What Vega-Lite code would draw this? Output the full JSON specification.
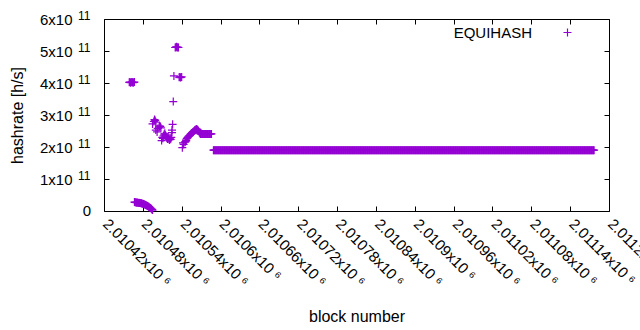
{
"$schema": "https://vega.github.io/schema/vega-lite/v6.json",
"width": 505, "height": 192,
"autosize": {"type": "none"},
"padding": {"left": 104, "top": 19, "right": 31, "bottom": 119},
"background": "white",
"config": {
 "view": {"stroke": "#000000", "strokeWidth": 1},
 "font": "Liberation Sans",
 "axis": {"grid": false, "domain": false, "tickColor": "#000000", "tickSize": -5, "tickWidth": 1, "labelColor": "#000000", "labelFont": "Liberation Sans", "labelFontSize": 15, "titleFont": "Liberation Sans", "titleFontSize": 16, "titleFontWeight": "normal", "titleColor": "#000000"}
},
"datasets": {
"exp": [{"v":100000000000,"e":"11"},{"v":200000000000,"e":"11"},{"v":300000000000,"e":"11"},{"v":400000000000,"e":"11"},{"v":500000000000,"e":"11"},{"v":600000000000,"e":"11"}],
"zero": [{"v":0,"e":"0"}],
"hr": [
{"b":2010459,"h":4.02e11},{"b":2010460,"h":4.03e11},{"b":2010461,"h":4.01e11},{"b":2010462,"h":4.02e11},{"b":2010463,"h":4.03e11},{"b":2010464,"h":4.02e11},{"b":2010465,"h":4.01e11},{"b":2010466,"h":4.02e11},{"b":2010467,"h":4.03e11},
{"b":2010467,"h":2.8e10},{"b":2010468,"h":2.7e10},{"b":2010469,"h":2.7e10},{"b":2010470,"h":2.6e10},{"b":2010471,"h":2.7e10},{"b":2010472,"h":2.6e10},{"b":2010473,"h":2.5e10},{"b":2010474,"h":2.6e10},{"b":2010475,"h":2.5e10},{"b":2010476,"h":2.5e10},{"b":2010477,"h":2.4e10},{"b":2010478,"h":2.4e10},{"b":2010479,"h":2.3e10},{"b":2010480,"h":2.3e10},{"b":2010481,"h":2.2e10},{"b":2010482,"h":2.1e10},{"b":2010483,"h":2.0e10},{"b":2010484,"h":1.9e10},{"b":2010485,"h":1.8e10},{"b":2010486,"h":1.7e10},{"b":2010487,"h":1.6e10},{"b":2010488,"h":1.5e10},{"b":2010489,"h":1.3e10},{"b":2010490,"h":1.2e10},{"b":2010491,"h":1.0e10},{"b":2010492,"h":0.9e10},{"b":2010493,"h":0.7e10},{"b":2010494,"h":0.5e10},{"b":2010495,"h":0.3e10},
{"b":2010495,"h":2.72e11},{"b":2010497,"h":2.80e11},{"b":2010498,"h":2.86e11},{"b":2010499,"h":2.83e11},{"b":2010500,"h":2.78e11},{"b":2010500,"h":2.53e11},{"b":2010502,"h":2.47e11},{"b":2010503,"h":2.58e11},{"b":2010505,"h":2.62e11},{"b":2010506,"h":2.66e11},{"b":2010507,"h":2.64e11},{"b":2010508,"h":2.60e11},{"b":2010509,"h":2.20e11},{"b":2010510,"h":2.30e11},{"b":2010511,"h":2.27e11},{"b":2010512,"h":2.35e11},{"b":2010513,"h":2.40e11},{"b":2010514,"h":2.43e11},{"b":2010515,"h":2.37e11},{"b":2010516,"h":2.33e11},{"b":2010517,"h":2.28e11},{"b":2010518,"h":2.25e11},{"b":2010519,"h":2.30e11},{"b":2010520,"h":2.26e11},{"b":2010521,"h":2.22e11},{"b":2010522,"h":2.28e11},{"b":2010523,"h":2.24e11},{"b":2010524,"h":2.30e11},{"b":2010525,"h":2.45e11},{"b":2010525,"h":2.53e11},{"b":2010526,"h":2.71e11},{"b":2010527,"h":3.42e11},{"b":2010528,"h":4.22e11},
{"b":2010530,"h":5.11e11},{"b":2010531,"h":5.12e11},{"b":2010532,"h":5.13e11},{"b":2010533,"h":5.11e11},{"b":2010534,"h":5.12e11},{"b":2010535,"h":5.11e11},
{"b":2010536,"h":4.18e11},{"b":2010537,"h":4.19e11},{"b":2010538,"h":4.17e11},{"b":2010539,"h":4.18e11},{"b":2010540,"h":4.19e11},
{"b":2010541,"h":1.98e11},{"b":2010542,"h":2.13e11},{"b":2010543,"h":2.08e11},{"b":2010545,"h":2.15e11},{"b":2010546,"h":2.17e11},{"b":2010547,"h":2.20e11},{"b":2010548,"h":2.26e11},{"b":2010549,"h":2.29e11},{"b":2010550,"h":2.32e11},{"b":2010551,"h":2.34e11},{"b":2010552,"h":2.36e11},{"b":2010553,"h":2.38e11},{"b":2010554,"h":2.40e11},{"b":2010555,"h":2.42e11},{"b":2010556,"h":2.44e11},{"b":2010557,"h":2.46e11},{"b":2010558,"h":2.48e11},{"b":2010559,"h":2.50e11},{"b":2010560,"h":2.52e11},{"b":2010561,"h":2.54e11},{"b":2010562,"h":2.55e11},{"b":2010563,"h":2.56e11},{"b":2010564,"h":2.55e11},{"b":2010565,"h":2.53e11},{"b":2010566,"h":2.50e11},{"b":2010567,"h":2.46e11},{"b":2010568,"h":2.43e11},
{"b":2010569,"h":2.41e11},{"b":2010570,"h":2.41e11},{"b":2010571,"h":2.41e11},{"b":2010572,"h":2.41e11},{"b":2010573,"h":2.41e11},{"b":2010574,"h":2.41e11},{"b":2010575,"h":2.41e11},{"b":2010576,"h":2.41e11},{"b":2010577,"h":2.41e11},{"b":2010578,"h":2.41e11},{"b":2010579,"h":2.41e11},{"b":2010580,"h":2.41e11},{"b":2010581,"h":2.41e11},{"b":2010582,"h":2.41e11},{"b":2010583,"h":2.41e11},{"b":2010584,"h":2.41e11},{"b":2010585,"h":2.41e11},{"b":2010586,"h":2.41e11},
{"b":2010589,"h":1.9e11},
{"b":2010590,"h":1.9e11},{"b":2010591,"h":1.9e11},{"b":2010592,"h":1.9e11},{"b":2010593,"h":1.9e11},{"b":2010594,"h":1.9e11},{"b":2010595,"h":1.9e11},{"b":2010596,"h":1.9e11},{"b":2010597,"h":1.9e11},{"b":2010598,"h":1.9e11},{"b":2010599,"h":1.9e11},
{"b":2010600,"h":1.9e11},{"b":2010601,"h":1.9e11},{"b":2010602,"h":1.9e11},{"b":2010603,"h":1.9e11},{"b":2010604,"h":1.9e11},{"b":2010605,"h":1.9e11},{"b":2010606,"h":1.9e11},{"b":2010607,"h":1.9e11},{"b":2010608,"h":1.9e11},{"b":2010609,"h":1.9e11},
{"b":2010610,"h":1.9e11},{"b":2010611,"h":1.9e11},{"b":2010612,"h":1.9e11},{"b":2010613,"h":1.9e11},{"b":2010614,"h":1.9e11},{"b":2010615,"h":1.9e11},{"b":2010616,"h":1.9e11},{"b":2010617,"h":1.9e11},{"b":2010618,"h":1.9e11},{"b":2010619,"h":1.9e11},
{"b":2010620,"h":1.9e11},{"b":2010621,"h":1.9e11},{"b":2010622,"h":1.9e11},{"b":2010623,"h":1.9e11},{"b":2010624,"h":1.9e11},{"b":2010625,"h":1.9e11},{"b":2010626,"h":1.9e11},{"b":2010627,"h":1.9e11},{"b":2010628,"h":1.9e11},{"b":2010629,"h":1.9e11},
{"b":2010630,"h":1.9e11},{"b":2010631,"h":1.9e11},{"b":2010632,"h":1.9e11},{"b":2010633,"h":1.9e11},{"b":2010634,"h":1.9e11},{"b":2010635,"h":1.9e11},{"b":2010636,"h":1.9e11},{"b":2010637,"h":1.9e11},{"b":2010638,"h":1.9e11},{"b":2010639,"h":1.9e11},
{"b":2010640,"h":1.9e11},{"b":2010641,"h":1.9e11},{"b":2010642,"h":1.9e11},{"b":2010643,"h":1.9e11},{"b":2010644,"h":1.9e11},{"b":2010645,"h":1.9e11},{"b":2010646,"h":1.9e11},{"b":2010647,"h":1.9e11},{"b":2010648,"h":1.9e11},{"b":2010649,"h":1.9e11},
{"b":2010650,"h":1.9e11},{"b":2010651,"h":1.9e11},{"b":2010652,"h":1.9e11},{"b":2010653,"h":1.9e11},{"b":2010654,"h":1.9e11},{"b":2010655,"h":1.9e11},{"b":2010656,"h":1.9e11},{"b":2010657,"h":1.9e11},{"b":2010658,"h":1.9e11},{"b":2010659,"h":1.9e11},
{"b":2010660,"h":1.9e11},{"b":2010661,"h":1.9e11},{"b":2010662,"h":1.9e11},{"b":2010663,"h":1.9e11},{"b":2010664,"h":1.9e11},{"b":2010665,"h":1.9e11},{"b":2010666,"h":1.9e11},{"b":2010667,"h":1.9e11},{"b":2010668,"h":1.9e11},{"b":2010669,"h":1.9e11},
{"b":2010670,"h":1.9e11},{"b":2010671,"h":1.9e11},{"b":2010672,"h":1.9e11},{"b":2010673,"h":1.9e11},{"b":2010674,"h":1.9e11},{"b":2010675,"h":1.9e11},{"b":2010676,"h":1.9e11},{"b":2010677,"h":1.9e11},{"b":2010678,"h":1.9e11},{"b":2010679,"h":1.9e11},
{"b":2010680,"h":1.9e11},{"b":2010681,"h":1.9e11},{"b":2010682,"h":1.9e11},{"b":2010683,"h":1.9e11},{"b":2010684,"h":1.9e11},{"b":2010685,"h":1.9e11},{"b":2010686,"h":1.9e11},{"b":2010687,"h":1.9e11},{"b":2010688,"h":1.9e11},{"b":2010689,"h":1.9e11},
{"b":2010690,"h":1.9e11},{"b":2010691,"h":1.9e11},{"b":2010692,"h":1.9e11},{"b":2010693,"h":1.9e11},{"b":2010694,"h":1.9e11},{"b":2010695,"h":1.9e11},{"b":2010696,"h":1.9e11},{"b":2010697,"h":1.9e11},{"b":2010698,"h":1.9e11},{"b":2010699,"h":1.9e11},
{"b":2010700,"h":1.9e11},{"b":2010701,"h":1.9e11},{"b":2010702,"h":1.9e11},{"b":2010703,"h":1.9e11},{"b":2010704,"h":1.9e11},{"b":2010705,"h":1.9e11},{"b":2010706,"h":1.9e11},{"b":2010707,"h":1.9e11},{"b":2010708,"h":1.9e11},{"b":2010709,"h":1.9e11},
{"b":2010710,"h":1.9e11},{"b":2010711,"h":1.9e11},{"b":2010712,"h":1.9e11},{"b":2010713,"h":1.9e11},{"b":2010714,"h":1.9e11},{"b":2010715,"h":1.9e11},{"b":2010716,"h":1.9e11},{"b":2010717,"h":1.9e11},{"b":2010718,"h":1.9e11},{"b":2010719,"h":1.9e11},
{"b":2010720,"h":1.9e11},{"b":2010721,"h":1.9e11},{"b":2010722,"h":1.9e11},{"b":2010723,"h":1.9e11},{"b":2010724,"h":1.9e11},{"b":2010725,"h":1.9e11},{"b":2010726,"h":1.9e11},{"b":2010727,"h":1.9e11},{"b":2010728,"h":1.9e11},{"b":2010729,"h":1.9e11},
{"b":2010730,"h":1.9e11},{"b":2010731,"h":1.9e11},{"b":2010732,"h":1.9e11},{"b":2010733,"h":1.9e11},{"b":2010734,"h":1.9e11},{"b":2010735,"h":1.9e11},{"b":2010736,"h":1.9e11},{"b":2010737,"h":1.9e11},{"b":2010738,"h":1.9e11},{"b":2010739,"h":1.9e11},
{"b":2010740,"h":1.9e11},{"b":2010741,"h":1.9e11},{"b":2010742,"h":1.9e11},{"b":2010743,"h":1.9e11},{"b":2010744,"h":1.9e11},{"b":2010745,"h":1.9e11},{"b":2010746,"h":1.9e11},{"b":2010747,"h":1.9e11},{"b":2010748,"h":1.9e11},{"b":2010749,"h":1.9e11},
{"b":2010750,"h":1.9e11},{"b":2010751,"h":1.9e11},{"b":2010752,"h":1.9e11},{"b":2010753,"h":1.9e11},{"b":2010754,"h":1.9e11},{"b":2010755,"h":1.9e11},{"b":2010756,"h":1.9e11},{"b":2010757,"h":1.9e11},{"b":2010758,"h":1.9e11},{"b":2010759,"h":1.9e11},
{"b":2010760,"h":1.9e11},{"b":2010761,"h":1.9e11},{"b":2010762,"h":1.9e11},{"b":2010763,"h":1.9e11},{"b":2010764,"h":1.9e11},{"b":2010765,"h":1.9e11},{"b":2010766,"h":1.9e11},{"b":2010767,"h":1.9e11},{"b":2010768,"h":1.9e11},{"b":2010769,"h":1.9e11},
{"b":2010770,"h":1.9e11},{"b":2010771,"h":1.9e11},{"b":2010772,"h":1.9e11},{"b":2010773,"h":1.9e11},{"b":2010774,"h":1.9e11},{"b":2010775,"h":1.9e11},{"b":2010776,"h":1.9e11},{"b":2010777,"h":1.9e11},{"b":2010778,"h":1.9e11},{"b":2010779,"h":1.9e11},
{"b":2010780,"h":1.9e11},{"b":2010781,"h":1.9e11},{"b":2010782,"h":1.9e11},{"b":2010783,"h":1.9e11},{"b":2010784,"h":1.9e11},{"b":2010785,"h":1.9e11},{"b":2010786,"h":1.9e11},{"b":2010787,"h":1.9e11},{"b":2010788,"h":1.9e11},{"b":2010789,"h":1.9e11},
{"b":2010790,"h":1.9e11},{"b":2010791,"h":1.9e11},{"b":2010792,"h":1.9e11},{"b":2010793,"h":1.9e11},{"b":2010794,"h":1.9e11},{"b":2010795,"h":1.9e11},{"b":2010796,"h":1.9e11},{"b":2010797,"h":1.9e11},{"b":2010798,"h":1.9e11},{"b":2010799,"h":1.9e11},
{"b":2010800,"h":1.9e11},{"b":2010801,"h":1.9e11},{"b":2010802,"h":1.9e11},{"b":2010803,"h":1.9e11},{"b":2010804,"h":1.9e11},{"b":2010805,"h":1.9e11},{"b":2010806,"h":1.9e11},{"b":2010807,"h":1.9e11},{"b":2010808,"h":1.9e11},{"b":2010809,"h":1.9e11},
{"b":2010810,"h":1.9e11},{"b":2010811,"h":1.9e11},{"b":2010812,"h":1.9e11},{"b":2010813,"h":1.9e11},{"b":2010814,"h":1.9e11},{"b":2010815,"h":1.9e11},{"b":2010816,"h":1.9e11},{"b":2010817,"h":1.9e11},{"b":2010818,"h":1.9e11},{"b":2010819,"h":1.9e11},
{"b":2010820,"h":1.9e11},{"b":2010821,"h":1.9e11},{"b":2010822,"h":1.9e11},{"b":2010823,"h":1.9e11},{"b":2010824,"h":1.9e11},{"b":2010825,"h":1.9e11},{"b":2010826,"h":1.9e11},{"b":2010827,"h":1.9e11},{"b":2010828,"h":1.9e11},{"b":2010829,"h":1.9e11},
{"b":2010830,"h":1.9e11},{"b":2010831,"h":1.9e11},{"b":2010832,"h":1.9e11},{"b":2010833,"h":1.9e11},{"b":2010834,"h":1.9e11},{"b":2010835,"h":1.9e11},{"b":2010836,"h":1.9e11},{"b":2010837,"h":1.9e11},{"b":2010838,"h":1.9e11},{"b":2010839,"h":1.9e11},
{"b":2010840,"h":1.9e11},{"b":2010841,"h":1.9e11},{"b":2010842,"h":1.9e11},{"b":2010843,"h":1.9e11},{"b":2010844,"h":1.9e11},{"b":2010845,"h":1.9e11},{"b":2010846,"h":1.9e11},{"b":2010847,"h":1.9e11},{"b":2010848,"h":1.9e11},{"b":2010849,"h":1.9e11},
{"b":2010850,"h":1.9e11},{"b":2010851,"h":1.9e11},{"b":2010852,"h":1.9e11},{"b":2010853,"h":1.9e11},{"b":2010854,"h":1.9e11},{"b":2010855,"h":1.9e11},{"b":2010856,"h":1.9e11},{"b":2010857,"h":1.9e11},{"b":2010858,"h":1.9e11},{"b":2010859,"h":1.9e11},
{"b":2010860,"h":1.9e11},{"b":2010861,"h":1.9e11},{"b":2010862,"h":1.9e11},{"b":2010863,"h":1.9e11},{"b":2010864,"h":1.9e11},{"b":2010865,"h":1.9e11},{"b":2010866,"h":1.9e11},{"b":2010867,"h":1.9e11},{"b":2010868,"h":1.9e11},{"b":2010869,"h":1.9e11},
{"b":2010870,"h":1.9e11},{"b":2010871,"h":1.9e11},{"b":2010872,"h":1.9e11},{"b":2010873,"h":1.9e11},{"b":2010874,"h":1.9e11},{"b":2010875,"h":1.9e11},{"b":2010876,"h":1.9e11},{"b":2010877,"h":1.9e11},{"b":2010878,"h":1.9e11},{"b":2010879,"h":1.9e11},
{"b":2010880,"h":1.9e11},{"b":2010881,"h":1.9e11},{"b":2010882,"h":1.9e11},{"b":2010883,"h":1.9e11},{"b":2010884,"h":1.9e11},{"b":2010885,"h":1.9e11},{"b":2010886,"h":1.9e11},{"b":2010887,"h":1.9e11},{"b":2010888,"h":1.9e11},{"b":2010889,"h":1.9e11},
{"b":2010890,"h":1.9e11},{"b":2010891,"h":1.9e11},{"b":2010892,"h":1.9e11},{"b":2010893,"h":1.9e11},{"b":2010894,"h":1.9e11},{"b":2010895,"h":1.9e11},{"b":2010896,"h":1.9e11},{"b":2010897,"h":1.9e11},{"b":2010898,"h":1.9e11},{"b":2010899,"h":1.9e11},
{"b":2010900,"h":1.9e11},{"b":2010901,"h":1.9e11},{"b":2010902,"h":1.9e11},{"b":2010903,"h":1.9e11},{"b":2010904,"h":1.9e11},{"b":2010905,"h":1.9e11},{"b":2010906,"h":1.9e11},{"b":2010907,"h":1.9e11},{"b":2010908,"h":1.9e11},{"b":2010909,"h":1.9e11},
{"b":2010910,"h":1.9e11},{"b":2010911,"h":1.9e11},{"b":2010912,"h":1.9e11},{"b":2010913,"h":1.9e11},{"b":2010914,"h":1.9e11},{"b":2010915,"h":1.9e11},{"b":2010916,"h":1.9e11},{"b":2010917,"h":1.9e11},{"b":2010918,"h":1.9e11},{"b":2010919,"h":1.9e11},
{"b":2010920,"h":1.9e11},{"b":2010921,"h":1.9e11},{"b":2010922,"h":1.9e11},{"b":2010923,"h":1.9e11},{"b":2010924,"h":1.9e11},{"b":2010925,"h":1.9e11},{"b":2010926,"h":1.9e11},{"b":2010927,"h":1.9e11},{"b":2010928,"h":1.9e11},{"b":2010929,"h":1.9e11},
{"b":2010930,"h":1.9e11},{"b":2010931,"h":1.9e11},{"b":2010932,"h":1.9e11},{"b":2010933,"h":1.9e11},{"b":2010934,"h":1.9e11},{"b":2010935,"h":1.9e11},{"b":2010936,"h":1.9e11},{"b":2010937,"h":1.9e11},{"b":2010938,"h":1.9e11},{"b":2010939,"h":1.9e11},
{"b":2010940,"h":1.9e11},{"b":2010941,"h":1.9e11},{"b":2010942,"h":1.9e11},{"b":2010943,"h":1.9e11},{"b":2010944,"h":1.9e11},{"b":2010945,"h":1.9e11},{"b":2010946,"h":1.9e11},{"b":2010947,"h":1.9e11},{"b":2010948,"h":1.9e11},{"b":2010949,"h":1.9e11},
{"b":2010950,"h":1.9e11},{"b":2010951,"h":1.9e11},{"b":2010952,"h":1.9e11},{"b":2010953,"h":1.9e11},{"b":2010954,"h":1.9e11},{"b":2010955,"h":1.9e11},{"b":2010956,"h":1.9e11},{"b":2010957,"h":1.9e11},{"b":2010958,"h":1.9e11},{"b":2010959,"h":1.9e11},
{"b":2010960,"h":1.9e11},{"b":2010961,"h":1.9e11},{"b":2010962,"h":1.9e11},{"b":2010963,"h":1.9e11},{"b":2010964,"h":1.9e11},{"b":2010965,"h":1.9e11},{"b":2010966,"h":1.9e11},{"b":2010967,"h":1.9e11},{"b":2010968,"h":1.9e11},{"b":2010969,"h":1.9e11},
{"b":2010970,"h":1.9e11},{"b":2010971,"h":1.9e11},{"b":2010972,"h":1.9e11},{"b":2010973,"h":1.9e11},{"b":2010974,"h":1.9e11},{"b":2010975,"h":1.9e11},{"b":2010976,"h":1.9e11},{"b":2010977,"h":1.9e11},{"b":2010978,"h":1.9e11},{"b":2010979,"h":1.9e11},
{"b":2010980,"h":1.9e11},{"b":2010981,"h":1.9e11},{"b":2010982,"h":1.9e11},{"b":2010983,"h":1.9e11},{"b":2010984,"h":1.9e11},{"b":2010985,"h":1.9e11},{"b":2010986,"h":1.9e11},{"b":2010987,"h":1.9e11},{"b":2010988,"h":1.9e11},{"b":2010989,"h":1.9e11},
{"b":2010990,"h":1.9e11},{"b":2010991,"h":1.9e11},{"b":2010992,"h":1.9e11},{"b":2010993,"h":1.9e11},{"b":2010994,"h":1.9e11},{"b":2010995,"h":1.9e11},{"b":2010996,"h":1.9e11},{"b":2010997,"h":1.9e11},{"b":2010998,"h":1.9e11},{"b":2010999,"h":1.9e11},
{"b":2011000,"h":1.9e11},{"b":2011001,"h":1.9e11},{"b":2011002,"h":1.9e11},{"b":2011003,"h":1.9e11},{"b":2011004,"h":1.9e11},{"b":2011005,"h":1.9e11},{"b":2011006,"h":1.9e11},{"b":2011007,"h":1.9e11},{"b":2011008,"h":1.9e11},{"b":2011009,"h":1.9e11},
{"b":2011010,"h":1.9e11},{"b":2011011,"h":1.9e11},{"b":2011012,"h":1.9e11},{"b":2011013,"h":1.9e11},{"b":2011014,"h":1.9e11},{"b":2011015,"h":1.9e11},{"b":2011016,"h":1.9e11},{"b":2011017,"h":1.9e11},{"b":2011018,"h":1.9e11},{"b":2011019,"h":1.9e11},
{"b":2011020,"h":1.9e11},{"b":2011021,"h":1.9e11},{"b":2011022,"h":1.9e11},{"b":2011023,"h":1.9e11},{"b":2011024,"h":1.9e11},{"b":2011025,"h":1.9e11},{"b":2011026,"h":1.9e11},{"b":2011027,"h":1.9e11},{"b":2011028,"h":1.9e11},{"b":2011029,"h":1.9e11},
{"b":2011030,"h":1.9e11},{"b":2011031,"h":1.9e11},{"b":2011032,"h":1.9e11},{"b":2011033,"h":1.9e11},{"b":2011034,"h":1.9e11},{"b":2011035,"h":1.9e11},{"b":2011036,"h":1.9e11},{"b":2011037,"h":1.9e11},{"b":2011038,"h":1.9e11},{"b":2011039,"h":1.9e11},
{"b":2011040,"h":1.9e11},{"b":2011041,"h":1.9e11},{"b":2011042,"h":1.9e11},{"b":2011043,"h":1.9e11},{"b":2011044,"h":1.9e11},{"b":2011045,"h":1.9e11},{"b":2011046,"h":1.9e11},{"b":2011047,"h":1.9e11},{"b":2011048,"h":1.9e11},{"b":2011049,"h":1.9e11},
{"b":2011050,"h":1.9e11},{"b":2011051,"h":1.9e11},{"b":2011052,"h":1.9e11},{"b":2011053,"h":1.9e11},{"b":2011054,"h":1.9e11},{"b":2011055,"h":1.9e11},{"b":2011056,"h":1.9e11},{"b":2011057,"h":1.9e11},{"b":2011058,"h":1.9e11},{"b":2011059,"h":1.9e11},
{"b":2011060,"h":1.9e11},{"b":2011061,"h":1.9e11},{"b":2011062,"h":1.9e11},{"b":2011063,"h":1.9e11},{"b":2011064,"h":1.9e11},{"b":2011065,"h":1.9e11},{"b":2011066,"h":1.9e11},{"b":2011067,"h":1.9e11},{"b":2011068,"h":1.9e11},{"b":2011069,"h":1.9e11},
{"b":2011070,"h":1.9e11},{"b":2011071,"h":1.9e11},{"b":2011072,"h":1.9e11},{"b":2011073,"h":1.9e11},{"b":2011074,"h":1.9e11},{"b":2011075,"h":1.9e11},{"b":2011076,"h":1.9e11},{"b":2011077,"h":1.9e11},{"b":2011078,"h":1.9e11},{"b":2011079,"h":1.9e11},
{"b":2011080,"h":1.9e11},{"b":2011081,"h":1.9e11},{"b":2011082,"h":1.9e11},{"b":2011083,"h":1.9e11},{"b":2011084,"h":1.9e11},{"b":2011085,"h":1.9e11},{"b":2011086,"h":1.9e11},{"b":2011087,"h":1.9e11},{"b":2011088,"h":1.9e11},{"b":2011089,"h":1.9e11},
{"b":2011090,"h":1.9e11},{"b":2011091,"h":1.9e11},{"b":2011092,"h":1.9e11},{"b":2011093,"h":1.9e11},{"b":2011094,"h":1.9e11},{"b":2011095,"h":1.9e11},{"b":2011096,"h":1.9e11},{"b":2011097,"h":1.9e11},{"b":2011098,"h":1.9e11},{"b":2011099,"h":1.9e11},
{"b":2011100,"h":1.9e11},{"b":2011101,"h":1.9e11},{"b":2011102,"h":1.9e11},{"b":2011103,"h":1.9e11},{"b":2011104,"h":1.9e11},{"b":2011105,"h":1.9e11},{"b":2011106,"h":1.9e11},{"b":2011107,"h":1.9e11},{"b":2011108,"h":1.9e11},{"b":2011109,"h":1.9e11},
{"b":2011110,"h":1.9e11},{"b":2011111,"h":1.9e11},{"b":2011112,"h":1.9e11},{"b":2011113,"h":1.9e11},{"b":2011114,"h":1.9e11},{"b":2011115,"h":1.9e11},{"b":2011116,"h":1.9e11},{"b":2011117,"h":1.9e11},{"b":2011118,"h":1.9e11},{"b":2011119,"h":1.9e11},
{"b":2011120,"h":1.9e11},{"b":2011121,"h":1.9e11},{"b":2011122,"h":1.9e11},{"b":2011123,"h":1.9e11},{"b":2011124,"h":1.9e11},{"b":2011125,"h":1.9e11},{"b":2011126,"h":1.9e11},{"b":2011127,"h":1.9e11},{"b":2011128,"h":1.9e11},{"b":2011129,"h":1.9e11},
{"b":2011130,"h":1.9e11},{"b":2011131,"h":1.9e11},{"b":2011132,"h":1.9e11},{"b":2011133,"h":1.9e11},{"b":2011134,"h":1.9e11},{"b":2011135,"h":1.9e11},{"b":2011136,"h":1.9e11},{"b":2011137,"h":1.9e11},{"b":2011138,"h":1.9e11},{"b":2011139,"h":1.9e11},
{"b":2011140,"h":1.9e11},{"b":2011141,"h":1.9e11},{"b":2011142,"h":1.9e11},{"b":2011143,"h":1.9e11},{"b":2011144,"h":1.9e11},{"b":2011145,"h":1.9e11},{"b":2011146,"h":1.9e11},{"b":2011147,"h":1.9e11},{"b":2011148,"h":1.9e11},{"b":2011149,"h":1.9e11},
{"b":2011150,"h":1.9e11},{"b":2011151,"h":1.9e11},{"b":2011152,"h":1.9e11},{"b":2011153,"h":1.9e11},{"b":2011154,"h":1.9e11},{"b":2011155,"h":1.9e11},{"b":2011156,"h":1.9e11},{"b":2011157,"h":1.9e11},{"b":2011158,"h":1.9e11},{"b":2011159,"h":1.9e11},
{"b":2011160,"h":1.9e11},{"b":2011161,"h":1.9e11},{"b":2011162,"h":1.9e11},{"b":2011163,"h":1.9e11},{"b":2011164,"h":1.9e11},{"b":2011165,"h":1.9e11},{"b":2011166,"h":1.9e11},{"b":2011167,"h":1.9e11},{"b":2011168,"h":1.9e11},{"b":2011169,"h":1.9e11},
{"b":2011170,"h":1.9e11},{"b":2011171,"h":1.9e11},{"b":2011172,"h":1.9e11},{"b":2011173,"h":1.9e11},{"b":2011174,"h":1.9e11},{"b":2011175,"h":1.9e11},{"b":2011176,"h":1.9e11},{"b":2011177,"h":1.9e11}
]},
"data": {"name": "hr"},
"layer": [
 {
  "mark": {"type": "point", "shape": "M-1,0H1M0,-1V1", "size": 64, "filled": false, "strokeWidth": 1.2, "opacity": 1},
  "encoding": {
   "x": {"field": "b", "type": "quantitative",
    "scale": {"domain": [2010420, 2011200], "nice": false, "zero": false},
    "axis": {"orient": "bottom", "values": [2010420,2010480,2010540,2010600,2010660,2010720,2010780,2010840,2010900,2010960,2011020,2011080,2011140,2011200],
     "labelExpr": "(datum.value/1000000) + 'x10 ⁶'", "labelAngle": 45, "labelAlign": "left", "labelBaseline": "top", "labelPadding": 10, "labelOffset": 6, "labelOverlap": false, "labelBound": false, "labelFlush": false,
     "title": "block number", "titleY": 105, "titleBaseline": "middle"}},
   "y": {"field": "h", "type": "quantitative",
    "scale": {"domain": [0, 600000000000], "nice": false},
    "axis": {"orient": "left", "values": [0,100000000000,200000000000,300000000000,400000000000,500000000000,600000000000],
     "labelExpr": "datum.value == 0 ? '' : (datum.value/100000000000) + 'x10'", "labelPadding": 37, "labelFlush": false, "labelOverlap": false,
     "title": "hashrate [h/s]", "titleX": -87, "titleY": 96, "titleAngle": 270, "titleAlign": "center", "titleBaseline": "middle"}},
   "color": {"datum": "EQUIHASH", "type": "nominal", "scale": {"range": ["#9400d3"]},
    "legend": {"orient": "none", "legendX": 456, "legendY": 6, "title": null, "padding": 0, "symbolType": "M-1,0H1M0,-1V1", "symbolSize": 64, "symbolStrokeColor": "#9400d3", "symbolStrokeWidth": 1.2, "symbolFillColor": "transparent", "labelFontSize": 15, "labelFont": "Liberation Sans", "labelColor": "#000000", "labelAlign": "right", "labelOffset": -43}}
  }
 },
 {
  "mark": {"type": "point", "opacity": 0},
  "encoding": {
   "x": {"field": "b", "type": "quantitative",
    "axis": {"orient": "top", "labels": false, "title": null, "values": [2010420,2010480,2010540,2010600,2010660,2010720,2010780,2010840,2010900,2010960,2011020,2011080,2011140,2011200]}},
   "y": {"field": "h", "type": "quantitative",
    "axis": {"orient": "right", "labels": false, "title": null, "values": [0,100000000000,200000000000,300000000000,400000000000,500000000000,600000000000]}}
  }
 },
 {
  "data": {"name": "exp"},
  "mark": {"type": "text", "align": "left", "baseline": "alphabetic", "dx": -26, "dy": 1, "fontSize": 12, "font": "Liberation Sans", "color": "#000000"},
  "encoding": {
   "x": {"datum": 2010420, "type": "quantitative", "axis": null},
   "y": {"field": "v", "type": "quantitative", "axis": null},
   "text": {"field": "e"}
  }
 },
 {
  "data": {"name": "zero"},
  "mark": {"type": "text", "align": "right", "baseline": "middle", "dx": -13, "fontSize": 15, "font": "Liberation Sans", "color": "#000000"},
  "encoding": {
   "x": {"datum": 2010420, "type": "quantitative", "axis": null},
   "y": {"field": "v", "type": "quantitative", "axis": null},
   "text": {"field": "e"}
  }
 }
],
"resolve": {"axis": {"x": "independent", "y": "independent"}}
}
